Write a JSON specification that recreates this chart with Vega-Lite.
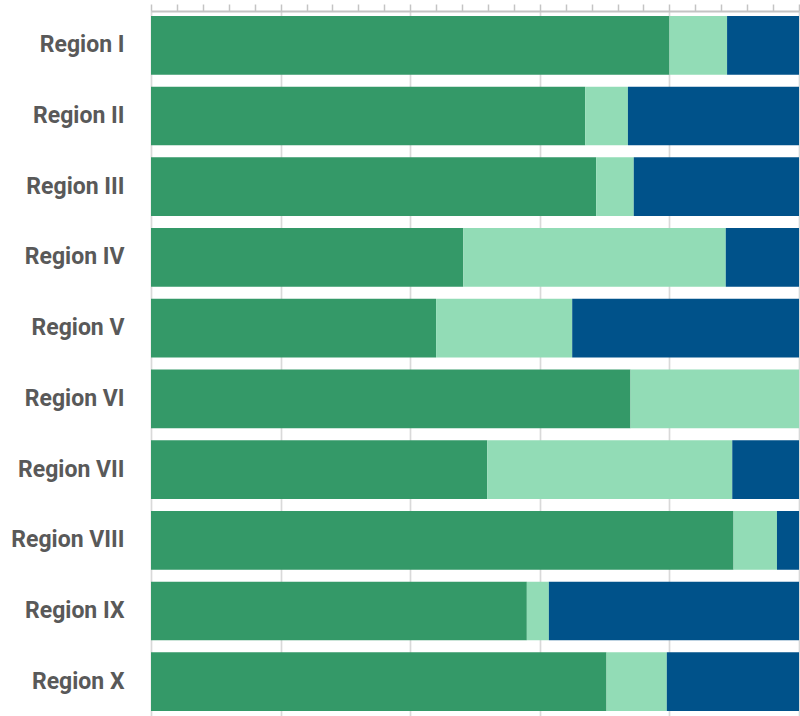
{
  "$schema": "https://vega.github.io/schema/vega-lite/v6.json",
  "autosize": "none",
  "width": 648,
  "height": 705,
  "padding": {"left": 151, "top": 11, "right": 1, "bottom": 0},
  "data": {
    "values": [
      {"region": "Region I", "segment": "Group A", "rank": 1, "share": 80.0},
      {"region": "Region I", "segment": "Group B", "rank": 2, "share": 8.9},
      {"region": "Region I", "segment": "Group C", "rank": 3, "share": 11.1},
      {"region": "Region II", "segment": "Group A", "rank": 1, "share": 67.0},
      {"region": "Region II", "segment": "Group B", "rank": 2, "share": 6.6},
      {"region": "Region II", "segment": "Group C", "rank": 3, "share": 26.4},
      {"region": "Region III", "segment": "Group A", "rank": 1, "share": 68.7},
      {"region": "Region III", "segment": "Group B", "rank": 2, "share": 5.8},
      {"region": "Region III", "segment": "Group C", "rank": 3, "share": 25.5},
      {"region": "Region IV", "segment": "Group A", "rank": 1, "share": 48.2},
      {"region": "Region IV", "segment": "Group B", "rank": 2, "share": 40.5},
      {"region": "Region IV", "segment": "Group C", "rank": 3, "share": 11.3},
      {"region": "Region V", "segment": "Group A", "rank": 1, "share": 44.0},
      {"region": "Region V", "segment": "Group B", "rank": 2, "share": 21.0},
      {"region": "Region V", "segment": "Group C", "rank": 3, "share": 35.0},
      {"region": "Region VI", "segment": "Group A", "rank": 1, "share": 74.0},
      {"region": "Region VI", "segment": "Group B", "rank": 2, "share": 26.0},
      {"region": "Region VI", "segment": "Group C", "rank": 3, "share": 0},
      {"region": "Region VII", "segment": "Group A", "rank": 1, "share": 51.9},
      {"region": "Region VII", "segment": "Group B", "rank": 2, "share": 37.8},
      {"region": "Region VII", "segment": "Group C", "rank": 3, "share": 10.3},
      {"region": "Region VIII", "segment": "Group A", "rank": 1, "share": 89.9},
      {"region": "Region VIII", "segment": "Group B", "rank": 2, "share": 6.7},
      {"region": "Region VIII", "segment": "Group C", "rank": 3, "share": 3.4},
      {"region": "Region IX", "segment": "Group A", "rank": 1, "share": 58.0},
      {"region": "Region IX", "segment": "Group B", "rank": 2, "share": 3.4},
      {"region": "Region IX", "segment": "Group C", "rank": 3, "share": 38.6},
      {"region": "Region X", "segment": "Group A", "rank": 1, "share": 70.3},
      {"region": "Region X", "segment": "Group B", "rank": 2, "share": 9.3},
      {"region": "Region X", "segment": "Group C", "rank": 3, "share": 20.4}
    ]
  },
  "mark": {"type": "bar"},
  "encoding": {
    "y": {
      "field": "region",
      "type": "nominal",
      "sort": null,
      "title": null,
      "scale": {"paddingInner": 0.17, "paddingOuter": 0.07},
      "axis": {
        "ticks": false,
        "domain": false,
        "labelPadding": 27,
        "labelFont": "Roboto",
        "labelFontSize": 23,
        "labelFontWeight": "bold",
        "labelColor": "#595959"
      }
    },
    "x": {
      "field": "share",
      "type": "quantitative",
      "stack": "zero",
      "title": null,
      "scale": {"domain": [0, 100], "nice": false},
      "axis": {
        "orient": "top",
        "values": [0, 4, 8, 12, 16, 20, 24, 28, 32, 36, 40, 44, 48, 52, 56, 60, 64, 68, 72, 76, 80, 84, 88, 92, 96, 100],
        "labels": false,
        "domainColor": "#c4c4c4",
        "domainWidth": 2,
        "tickColor": "#c4c4c4",
        "tickWidth": 1.5,
        "tickSize": 7,
        "grid": true,
        "gridColor": "#d9d9d9",
        "gridWidth": 1.7,
        "gridOpacity": {"condition": {"test": "datum.value % 20 === 0", "value": 1}, "value": 0}
      }
    },
    "color": {
      "field": "segment",
      "type": "nominal",
      "scale": {
        "domain": ["Group A", "Group B", "Group C"],
        "range": ["#349968", "#92dcb6", "#00528a"]
      },
      "legend": null
    },
    "order": {"field": "rank", "type": "quantitative"}
  },
  "config": {"view": {"stroke": null}}
}
